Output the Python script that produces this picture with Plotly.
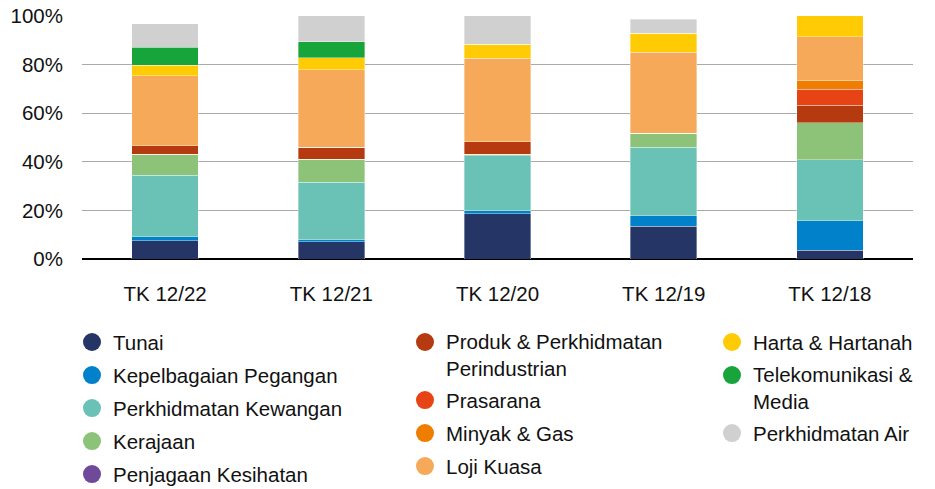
import plotly.graph_objects as go

categories = ["TK 12/22", "TK 12/21", "TK 12/20", "TK 12/19", "TK 12/18"]

tunai = [7.5, 7.1, 18.6, 13.4, 3.6]
kepelbagaian = [1.7, 0.8, 1.3, 4.4, 12.1]
kewangan = [25.2, 23.6, 22.6, 28.1, 25.1]
kerajaan = [8.8, 9.5, 0.7, 5.8, 15.2]
kesihatan = [0, 0, 0, 0, 0]
perindustrian = [3.4, 5.0, 5.0, 0, 7.3]
prasarana = [0, 0, 0, 0, 6.6]
minyak_gas = [0, 0, 0, 0, 3.7]
loji_kuasa = [28.8, 31.8, 34.5, 33.3, 17.9]
harta = [4.4, 5.1, 5.7, 7.9, 8.5]
telekom = [7.4, 6.4, 0, 0, 0]
air = [9.5, 10.7, 11.6, 5.7, 0]

y_ticks = [0, 20, 40, 60, 80, 100]
y_tick_labels = ["0%", "20%", "40%", "60%", "80%", "100%"]

series = [
    ("Tunai", tunai, "#253565"),
    ("Kepelbagaian Pegangan", kepelbagaian, "#0081C9"),
    ("Perkhidmatan Kewangan", kewangan, "#6AC1B5"),
    ("Kerajaan", kerajaan, "#8DC378"),
    ("Penjagaan Kesihatan", kesihatan, "#6F4A9A"),
    ("Produk & Perkhidmatan<br>Perindustrian", perindustrian, "#B63A10"),
    ("Prasarana", prasarana, "#E64414"),
    ("Minyak & Gas", minyak_gas, "#EF7D00"),
    ("Loji Kuasa", loji_kuasa, "#F6A959"),
    ("Harta & Hartanah", harta, "#FFCB05"),
    ("Telekomunikasi &<br>Media", telekom, "#17A53B"),
    ("Perkhidmatan Air", air, "#D0D0D0"),
]

FONT = "Liberation Sans, Arial, Helvetica, sans-serif"
FS = 20.5

# page body margin is removed (post_script), so window pixels == figure pixels
W, H = 935, 489
Y_TOP = 100.4
PX_PER_PCT = (259 - 16) / 100
ML, MR = 82, 22
MT = 16 - PX_PER_PCT * (Y_TOP - 100)
MB = H - 259
PW, PH = W - ML - MR, H - MT - MB

fig = go.Figure()
for name, vals, col in series:
    fig.add_trace(go.Bar(
        x=categories, y=vals, name=name.replace("<br>", " "),
        marker=dict(color=col, line=dict(width=0.6, color="rgba(255,255,255,0.6)")),
        showlegend=False,
    ))

# custom three-column legend (pixel positions)
legend_cols = [[0, 1, 2, 3, 4], [5, 6, 7, 8], [9, 10, 11]]
col_circle_x = [92, 425, 732]
col_text_x = [111, 444, 751]
first_row_y = 342
row_step = 33
extra_line = 25
line_h = 26


def px_to_paper_x(px):
    return (px - ML) / PW


def px_to_paper_y(py):
    return (H - MB - py) / PH


shapes = []
annotations = []
for ci, idxs in enumerate(legend_cols):
    y = first_row_y
    for i in idxs:
        name, _, col = series[i]
        nlines = name.count("<br>") + 1
        shapes.append(dict(
            type="circle", xref="paper", yref="paper",
            xsizemode="pixel", ysizemode="pixel",
            xanchor=px_to_paper_x(col_circle_x[ci]), yanchor=px_to_paper_y(y),
            x0=-9, x1=9, y0=-9, y1=9,
            fillcolor=col, line=dict(width=0),
        ))
        yc = y + (nlines - 1) * line_h / 2
        annotations.append(dict(
            text=name, xref="paper", yref="paper",
            x=px_to_paper_x(col_text_x[ci]), y=px_to_paper_y(yc),
            xanchor="left", yanchor="middle", align="left",
            showarrow=False, font=dict(family=FONT, size=FS, color="#111111"),
        ))
        y += row_step + extra_line * (nlines - 1)

fig.update_layout(
    barmode="stack",
    bargap=0.6,
    width=W, height=H,
    margin=dict(l=ML, r=MR, t=MT, b=MB, pad=0, autoexpand=False),
    plot_bgcolor="white", paper_bgcolor="white",
    font=dict(family=FONT, size=FS, color="#111111"),
    shapes=shapes,
    annotations=annotations,
    hovermode=False,
    xaxis=dict(
        showgrid=False, showline=False, ticks="", automargin=False,
        tickfont=dict(family=FONT, size=FS, color="#111111"),
        ticklabelstandoff=20, ticklabeloverflow="allow",
    ),
    yaxis=dict(
        range=[0, Y_TOP], tickvals=y_ticks, ticktext=y_tick_labels,
        showgrid=True, gridcolor="#AAAAAA", gridwidth=1,
        zeroline=True, zerolinecolor="#000000", zerolinewidth=2.5,
        showline=False, ticks="", automargin=False,
        tickfont=dict(family=FONT, size=FS, color="#111111"),
        ticklabelstandoff=18, ticklabeloverflow="allow",
    ),
)

fig.write_html(
    "out.html",
    config={"displayModeBar": False, "staticPlot": True},
    post_script="document.body.style.margin='0';",
)
